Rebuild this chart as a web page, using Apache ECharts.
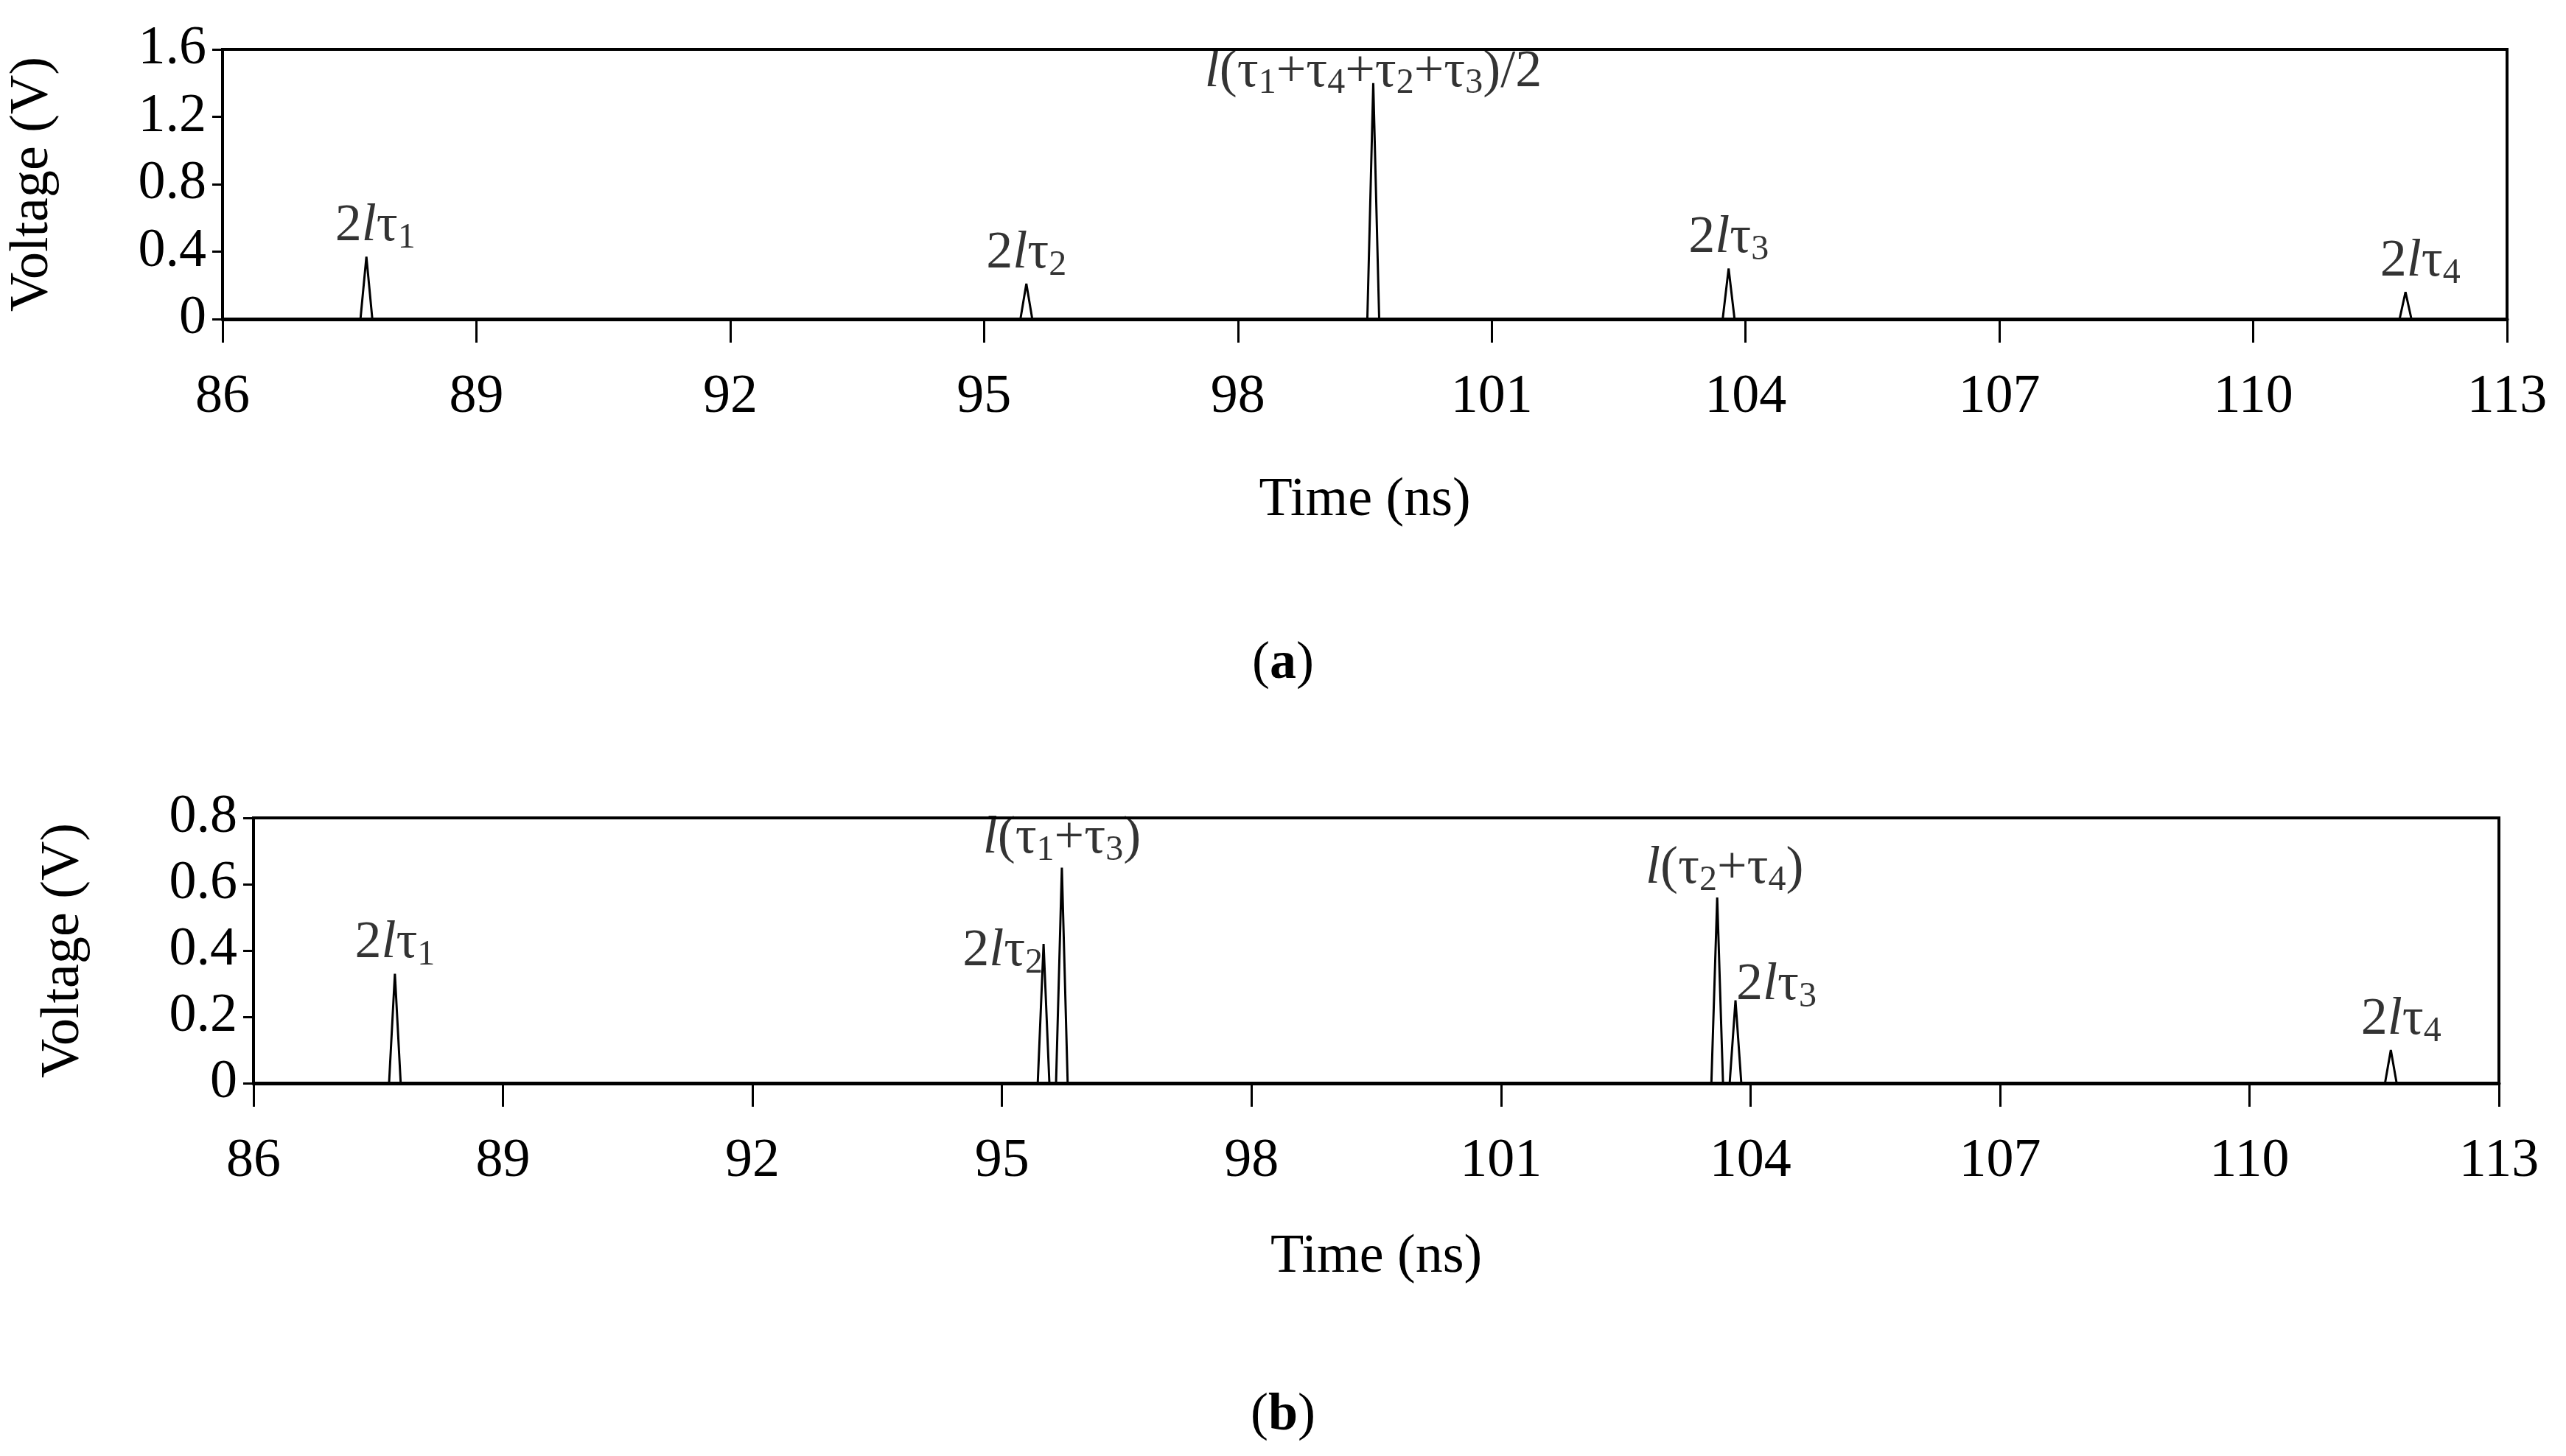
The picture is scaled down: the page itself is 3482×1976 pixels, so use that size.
<!DOCTYPE html>
<html>
  <head>
    <meta charset="utf-8" />
    <title>TDR pulses</title>
    <script src="https://cdn.jsdelivr.net/npm/echarts@6/dist/echarts.min.js"></script>
    <style>
      html, body { margin: 0; padding: 0; background: #fff; }
    </style>
  </head>
  <body>
    <div id="main" style="width: 3482px; height: 1976px;"></div>
    <script type="text/javascript">
      // 时间轴范围 / 刻度
      var timeMin = 86;
      var timeMax = 113;
      var timeStep = 3;

      // (a) 脉冲位置与幅值
      var peakTimeA = [87.7, 95.5, 99.6, 103.8, 111.8];
      var peakVoltA = [0.37, 0.21, 1.40, 0.30, 0.16];
      var peakLabelA = [
        "{n|2}{i|l}{n|τ}{s|1}",
        "{n|2}{i|l}{n|τ}{s|2}",
        "{i|l}{n|(τ}{s|1}{n|+τ}{s|4}{n|+τ}{s|2}{n|+τ}{s|3}{n|)/2}",
        "{n|2}{i|l}{n|τ}{s|3}",
        "{n|2}{i|l}{n|τ}{s|4}"
      ];

      // (b) 脉冲位置与幅值
      var peakTimeB = [87.7, 95.5, 95.72, 103.6, 103.82, 111.7];
      var peakVoltB = [0.33, 0.42, 0.65, 0.56, 0.25, 0.10];
      var peakLabelB = [
        "{n|2}{i|l}{n|τ}{s|1}",
        "{n|2}{i|l}{n|τ}{s|2}",
        "{i|l}{n|(τ}{s|1}{n|+τ}{s|3}{n|)}",
        "{i|l}{n|(τ}{s|2}{n|+τ}{s|4}{n|)}",
        "{n|2}{i|l}{n|τ}{s|3}",
        "{n|2}{i|l}{n|τ}{s|4}"
      ];

      var halfWidth = 0.07; // 脉冲半宽 (ns)

      // 标签位置 (样式)
      var labelPosA = [
        { position: "top", offset: [12, 4] },
        { position: "top", offset: [0, 4] },
        { position: "top", offset: [0, 30] },
        { position: "top", offset: [0, 4] },
        { position: "top", offset: [20, 4] }
      ];
      var labelPosB = [
        { position: "top", offset: [0, 4] },
        { position: "left", offset: [4, 10] },
        { position: "top", offset: [0, 6] },
        { position: "top", offset: [10, 6] },
        { position: "right", offset: [-4, -20] },
        { position: "top", offset: [14, 4] }
      ];

      var font = "Liberation Serif";
      var rich = {
        n: { fontFamily: font, fontSize: 72, color: "#000", lineHeight: 80 },
        i: { fontFamily: font, fontSize: 72, fontStyle: "italic", color: "#000", lineHeight: 80 },
        s: { fontFamily: font, fontSize: 48, color: "#000", lineHeight: 48, verticalAlign: "bottom", padding: [28, 0, 0, 0] }
      };

      function buildLine(times, volts) {
        var d = [[timeMin, 0]];
        for (var i = 0; i < times.length; i++) {
          d.push([times[i] - halfWidth, 0]);
          d.push([times[i], volts[i]]);
          d.push([times[i] + halfWidth, 0]);
        }
        d.push([timeMax, 0]);
        return d;
      }

      function buildLabels(times, volts, labels, pos) {
        return times.map(function (t, i) {
          return {
            value: [t, volts[i]],
            label: {
              show: true,
              position: pos[i].position,
              offset: pos[i].offset,
              formatter: labels[i],
              rich: rich
            }
          };
        });
      }

      var axisText = { fontFamily: font, fontSize: 74, color: "#000" };

      function xAxis(idx, nameGap) {
        return {
          type: "value",
          gridIndex: idx,
          min: timeMin,
          max: timeMax,
          interval: timeStep,
          name: "Time (ns)",
          nameLocation: "middle",
          nameGap: nameGap,
          nameTextStyle: axisText,
          axisLine: { lineStyle: { color: "#000", width: 5 } },
          axisTick: { inside: false, length: 32, lineStyle: { color: "#000", width: 3 } },
          axisLabel: Object.assign({ margin: 70 }, axisText),
          splitLine: { show: false }
        };
      }

      function yAxis(idx, max, interval) {
        return {
          type: "value",
          gridIndex: idx,
          min: 0,
          max: max,
          interval: interval,
          name: "Voltage (V)",
          nameLocation: "middle",
          nameGap: 220,
          nameTextStyle: axisText,
          axisLine: { show: true, lineStyle: { color: "#000", width: 3 } },
          axisTick: { show: true, length: 14, lineStyle: { color: "#000", width: 3 } },
          axisLabel: Object.assign({ margin: 22 }, axisText),
          splitLine: { show: false }
        };
      }

      var myChart = echarts.init(document.getElementById("main"));

      var option = {
        backgroundColor: "#fff",
        animation: false,
        grid: [
          { left: 302, top: 67, width: 3100, height: 366, show: true, borderColor: "#000", borderWidth: 4 },
          { left: 344, top: 1110, width: 3047, height: 360, show: true, borderColor: "#000", borderWidth: 4 }
        ],
        xAxis: [xAxis(0, 210), xAxis(1, 200)],
        yAxis: [yAxis(0, 1.6, 0.4), yAxis(1, 0.8, 0.2)],
        title: [
          { text: "({b|a})", left: "center", top: 860, textStyle: { fontFamily: font, fontSize: 72, fontWeight: "normal", color: "#000", rich: { b: { fontFamily: font, fontSize: 72, fontWeight: "bold", color: "#000" } } } },
          { text: "({b|b})", left: "center", top: 1880, textStyle: { fontFamily: font, fontSize: 72, fontWeight: "normal", color: "#000", rich: { b: { fontFamily: font, fontSize: 72, fontWeight: "bold", color: "#000" } } } }
        ],
        series: [
          {
            type: "line",
            xAxisIndex: 0,
            yAxisIndex: 0,
            symbol: "none",
            lineStyle: { color: "#000", width: 3 },
            data: buildLine(peakTimeA, peakVoltA)
          },
          {
            type: "scatter",
            xAxisIndex: 0,
            yAxisIndex: 0,
            symbolSize: 0,
            data: buildLabels(peakTimeA, peakVoltA, peakLabelA, labelPosA)
          },
          {
            type: "line",
            xAxisIndex: 1,
            yAxisIndex: 1,
            symbol: "none",
            lineStyle: { color: "#000", width: 3 },
            data: buildLine(peakTimeB, peakVoltB)
          },
          {
            type: "scatter",
            xAxisIndex: 1,
            yAxisIndex: 1,
            symbolSize: 0,
            data: buildLabels(peakTimeB, peakVoltB, peakLabelB, labelPosB)
          }
        ]
      };

      myChart.setOption(option);
    </script>
  </body>
</html>
